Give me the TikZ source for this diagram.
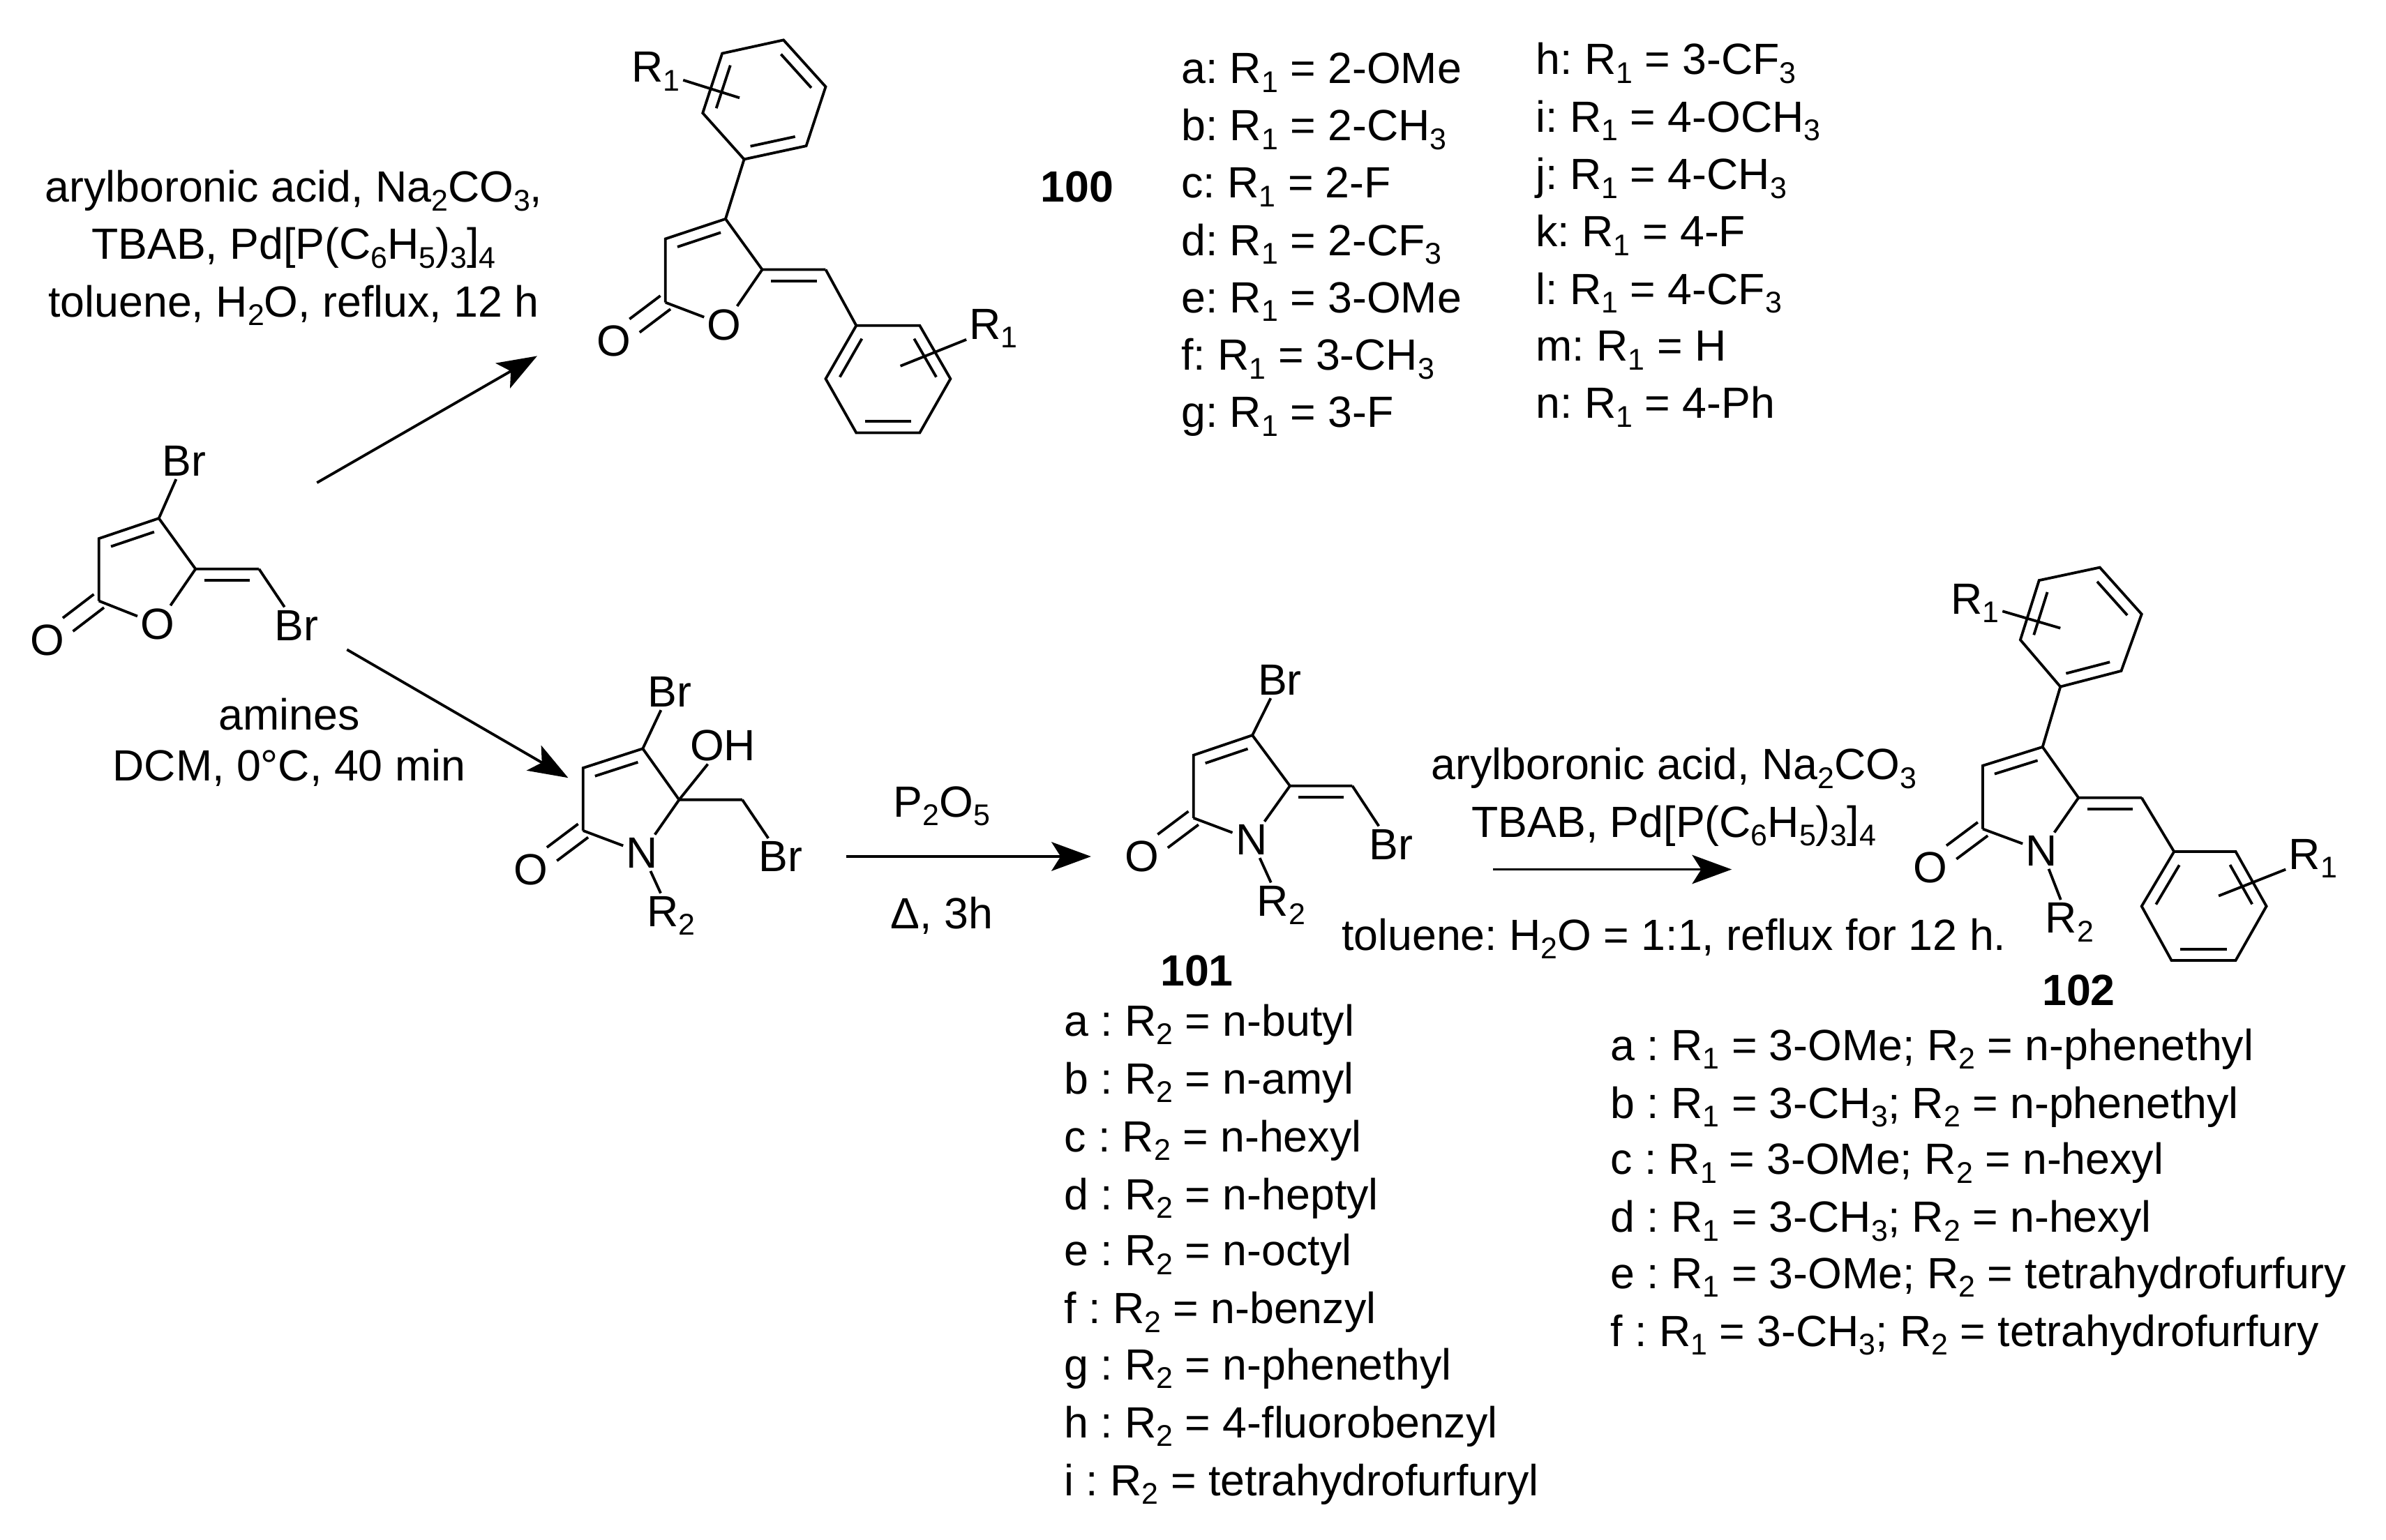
\documentclass[tikz,border=0pt]{standalone}
\usepackage{fontspec}
\setmainfont{Liberation Sans}
\usetikzlibrary{calc,arrows.meta}
\frenchspacing

\newcommand{\chemsub}[1]{\raisebox{-0.2em}{\fontsize{11.2}{12}\selectfont #1}}
\newcommand{\innerbond}[2]{\draw[bond] ($ (#1)!0.14!(#2)!0.15cm!90:(#2) $) -- ($ (#2)!0.14!(#1)!0.15cm!-90:(#1) $);}
\newcommand{\ketobond}[2]{
    \draw[bond] ($ (#1)!0.11cm!90:(#2) $) -- ($ (#2)!0.4!(#1)!0.11cm!-90:(#1) $);
    \draw[bond] ($ (#1)!0.11cm!-90:(#2) $) -- ($ (#2)!0.4!(#1)!0.11cm!90:(#1) $);
}

\begin{document}
\begin{tikzpicture}[x=0.02cm,y=-0.02cm,
    bond/.style={line width=1pt},
    rxn/.style={line width=1pt,-{Stealth[length=0.52cm,width=0.38cm,inset=0.12cm]}},
    atom/.style={inner sep=1pt,font=\fontsize{16.35}{18}\selectfont},
    cond/.style={inner sep=0pt,align=center,font=\fontsize{16.35}{21.5}\selectfont},
    listitem/.style={inner sep=0pt,anchor=base west,font=\fontsize{16.35}{18}\selectfont}]
    \path[use as bounding box] (0,0) rectangle (1568,1012.3);

    % starting material
    \coordinate (s2) at (65,395);
    \coordinate (s3) at (65,354);
    \coordinate (s4) at (104.4,340.7);
    \coordinate (s5) at (128.5,374);
    \coordinate (s6) at (170.2,374);
    \node[atom] (so) at (103.6,410.3) {O};
    \node[atom] (sk) at (31,421) {O};
    \node[atom] (sb1) at (121,303) {Br};
    \node[atom] (sb2) at (195,411) {Br};
    \draw[bond] (s2) -- (s3) -- (s4) -- (s5) -- (s6);
    \draw[bond] (s2) -- (so) -- (s5);
    \draw[bond] (s4) -- (sb1);
    \draw[bond] (s6) -- (sb2);
    \ketobond{s2}{sk}
    \innerbond{s4}{s3}
    \innerbond{s6}{s5}

    % compound 100
    \coordinate (f2) at (437.3,198.8);
    \coordinate (f3) at (437.3,157);
    \coordinate (f4) at (476.8,143.9);
    \coordinate (f5) at (500.9,177.2);
    \coordinate (f6) at (542.6,177.2);
    \node[atom] (fo) at (476,213.5) {O};
    \node[atom] (fk) at (403.5,224.3) {O};
    \draw[bond] (f2) -- (f3) -- (f4) -- (f5) -- (f6);
    \draw[bond] (f2) -- (fo) -- (f5);
    \ketobond{f2}{fk}
    \innerbond{f4}{f3}
    \innerbond{f6}{f5}
    \coordinate (p1) at (489,104.7);
    \coordinate (p2) at (461.8,74.3);
    \coordinate (p3) at (474.6,35.1);
    \coordinate (p4) at (514.9,26.3);
    \coordinate (p5) at (542.6,57);
    \coordinate (p6) at (529.8,95.9);
    \draw[bond] (p1) -- (p2) -- (p3) -- (p4) -- (p5) -- (p6) -- cycle;
    \draw[bond] (f4) -- (p1);
    \foreach \a/\b in {p3/p2,p5/p4,p1/p6} {\innerbond{\a}{\b}}
    \coordinate (q1) at (562.7,214);
    \coordinate (q2) at (604.4,214);
    \coordinate (q3) at (624.6,249);
    \coordinate (q4) at (604.4,284.5);
    \coordinate (q5) at (562.7,284.5);
    \coordinate (q6) at (542.6,249);
    \draw[bond] (q1) -- (q2) -- (q3) -- (q4) -- (q5) -- (q6) -- cycle;
    \draw[bond] (f6) -- (q1);
    \foreach \a/\b in {q1/q6,q3/q2,q5/q4} {\innerbond{\a}{\b}}
    \node[atom] (fr1) at (431,47) {R\chemsub{1}};
    \node[atom] (fr2) at (653,216) {R\chemsub{1}};
    \coordinate (fx1) at (486,64.3);
    \coordinate (fx2) at (591.7,240.6);
    \draw[bond] (fr1) -- (fx1);
    \draw[bond] (fr2) -- (fx2);

    % hydroxy lactam
    \coordinate (h2) at (383.2,546);
    \coordinate (h3) at (383.2,504.8);
    \coordinate (h4) at (422.4,492.1);
    \coordinate (h5) at (446.3,525.7);
    \coordinate (h6) at (487.8,525.7);
    \node[atom] (hn) at (422,560.6) {N};
    \node[atom] (hk) at (349,571.7) {O};
    \node[atom] (hb1) at (440,454.8) {Br};
    \node[atom] (hb2) at (513,563) {Br};
    \node[atom] (hoh) at (475,490) {OH};
    \node[atom] (hr) at (441,602) {R\chemsub{2}};
    \draw[bond] (h2) -- (h3) -- (h4) -- (h5) -- (h6);
    \draw[bond] (h2) -- (hn) -- (h5);
    \draw[bond] (h4) -- (hb1);
    \draw[bond] (h5) -- (hoh);
    \draw[bond] (h6) -- (hb2);
    \draw[bond] (hn) -- (hr);
    \ketobond{h2}{hk}
    \innerbond{h4}{h3}

    % compound 101
    \coordinate (m2) at (784.3,537.7);
    \coordinate (m3) at (784.3,496.4);
    \coordinate (m4) at (823,483.3);
    \coordinate (m5) at (847.7,516.6);
    \coordinate (m6) at (888.7,516.6);
    \node[atom] (mn) at (822.4,552) {N};
    \node[atom] (mk) at (750.6,563) {O};
    \node[atom] (mb1) at (841,447) {Br};
    \node[atom] (mb2) at (914,555) {Br};
    \node[atom] (mr) at (842,595) {R\chemsub{2}};
    \draw[bond] (m2) -- (m3) -- (m4) -- (m5) -- (m6);
    \draw[bond] (m2) -- (mn) -- (m5);
    \draw[bond] (m4) -- (mb1);
    \draw[bond] (m6) -- (mb2);
    \draw[bond] (mn) -- (mr);
    \ketobond{m2}{mk}
    \innerbond{m4}{m3}
    \innerbond{m6}{m5}

    % compound 102
    \coordinate (n2) at (1303,544.9);
    \coordinate (n3) at (1303,503.3);
    \coordinate (n4) at (1342.3,491);
    \coordinate (n5) at (1365.9,524.4);
    \coordinate (n6) at (1407.4,524.4);
    \node[atom] (nn) at (1341.7,559.2) {N};
    \node[atom] (nk) at (1268.7,570.5) {O};
    \node[atom] (nr) at (1360,606.3) {R\chemsub{2}};
    \draw[bond] (n2) -- (n3) -- (n4) -- (n5) -- (n6);
    \draw[bond] (n2) -- (nn) -- (n5);
    \draw[bond] (nn) -- (nr);
    \ketobond{n2}{nk}
    \innerbond{n4}{n3}
    \innerbond{n6}{n5}
    \coordinate (t1) at (1354,451.4);
    \coordinate (t2) at (1327.7,420.6);
    \coordinate (t3) at (1340,381.5);
    \coordinate (t4) at (1379.9,373);
    \coordinate (t5) at (1407.4,403.7);
    \coordinate (t6) at (1394,441);
    \draw[bond] (t1) -- (t2) -- (t3) -- (t4) -- (t5) -- (t6) -- cycle;
    \draw[bond] (n4) -- (t1);
    \foreach \a/\b in {t3/t2,t5/t4,t1/t6} {\innerbond{\a}{\b}}
    \coordinate (u1) at (1428.7,559.8);
    \coordinate (u2) at (1469.2,559.8);
    \coordinate (u3) at (1489.4,595.7);
    \coordinate (u4) at (1469.2,631.3);
    \coordinate (u5) at (1427,631.3);
    \coordinate (u6) at (1407.4,595.7);
    \draw[bond] (u1) -- (u2) -- (u3) -- (u4) -- (u5) -- (u6) -- cycle;
    \draw[bond] (n6) -- (u1);
    \foreach \a/\b in {u1/u6,u3/u2,u5/u4} {\innerbond{\a}{\b}}
    \node[atom] (nr1) at (1298,396.5) {R\chemsub{1}};
    \node[atom] (nr2) at (1520,564.4) {R\chemsub{1}};
    \coordinate (nx1) at (1354,412.9);
    \coordinate (nx2) at (1458,588.9);
    \draw[bond] (nr1) -- (nx1);
    \draw[bond] (nr2) -- (nx2);

    % arrows
    \coordinate (a1) at (208.3,317.3);
    \coordinate (a2) at (353,234);
    \coordinate (a3) at (228,427);
    \coordinate (a4) at (373.4,511.3);
    \coordinate (a5) at (556,563);
    \coordinate (a6) at (717,563);
    \coordinate (a7) at (981.3,571.5);
    \coordinate (a8) at (1138,571.5);
    \draw[rxn] (a1) -- (a2);
    \draw[rxn] (a3) -- (a4);
    \draw[rxn] (a5) -- (a6);
    \draw[rxn] (a7) -- (a8);

    % conditions
    \node[cond] (c1) at (193,163) {arylboronic acid, Na\chemsub{2}CO\chemsub{3},\\TBAB, Pd[P(C\chemsub{6}H\chemsub{5})\chemsub{3}]\chemsub{4}\\toluene, H\chemsub{2}O, reflux, 12 h};
    \node[cond] (c2) at (190,488) {amines\\[-2.3pt]DCM, 0°C, 40 min};
    \node[cond] (c3) at (619,530) {P\chemsub{2}O\chemsub{5}};
    \node[cond] (c4) at (619,602) {Δ, 3h};
    \node[cond] (c5) at (1100,524) {arylboronic acid, Na\chemsub{2}CO\chemsub{3}\\TBAB, Pd[P(C\chemsub{6}H\chemsub{5})\chemsub{3}]\chemsub{4}};
    \node[cond] (c6) at (1100,617) {toluene: H\chemsub{2}O = 1:1, reflux for 12 h.};

    % compound numbers
    \node[cond] (l100) at (708,123) {\bfseries 100};
    \node[cond] (l101) at (786.5,638) {\bfseries 101};
    \node[cond] (l102) at (1366,651) {\bfseries 102};

    % substituent lists
    \foreach \yy/\txt in {55/a: R\chemsub{1} = 2-OMe,92.4/b: R\chemsub{1} = 2-CH\chemsub{3},130/c: R\chemsub{1} = 2-F,167.8/d: R\chemsub{1} = 2-CF\chemsub{3},205.6/e: R\chemsub{1} = 3-OMe,243.3/f: R\chemsub{1} = 3-CH\chemsub{3},281/g: R\chemsub{1} = 3-F} {
        \node[listitem] at (776,\yy) {\txt};
    }
    \foreach \yy/\txt in {49/h: R\chemsub{1} = 3-CF\chemsub{3},86.8/i: R\chemsub{1} = 4-OCH\chemsub{3},124.5/j: R\chemsub{1} = 4-CH\chemsub{3},162.2/k: R\chemsub{1} = 4-F,200/l: R\chemsub{1} = 4-CF\chemsub{3},237.3/m: R\chemsub{1} = H,275/n: R\chemsub{1} = 4-Ph} {
        \node[listitem] at (1009,\yy) {\txt};
    }
    \foreach \yy/\txt in {681/a : R\chemsub{2} = n-butyl,719/b : R\chemsub{2} = n-amyl,757/c : R\chemsub{2} = n-hexyl,795/d : R\chemsub{2} = n-heptyl,832/e : R\chemsub{2} = n-octyl,870/f : R\chemsub{2} = n-benzyl,907/g : R\chemsub{2} = n-phenethyl,945/h : R\chemsub{2} = 4-fluorobenzyl,983/i : R\chemsub{2} = tetrahydrofurfuryl} {
        \node[listitem] at (699,\yy) {\txt};
    }
    \foreach \yy/\txt in {697/{a : R\chemsub{1} = 3-OMe; R\chemsub{2} = n-phenethyl},735/{b : R\chemsub{1} = 3-CH\chemsub{3}; R\chemsub{2} = n-phenethyl},772/{c : R\chemsub{1} = 3-OMe; R\chemsub{2} = n-hexyl},810/{d : R\chemsub{1} = 3-CH\chemsub{3}; R\chemsub{2} = n-hexyl},847/{e : R\chemsub{1} = 3-OMe; R\chemsub{2} = tetrahydrofurfury},885/{f : R\chemsub{1} = 3-CH\chemsub{3}; R\chemsub{2} = tetrahydrofurfury}} {
        \node[listitem] at (1058,\yy) {\txt};
    }
\end{tikzpicture}
\end{document}
